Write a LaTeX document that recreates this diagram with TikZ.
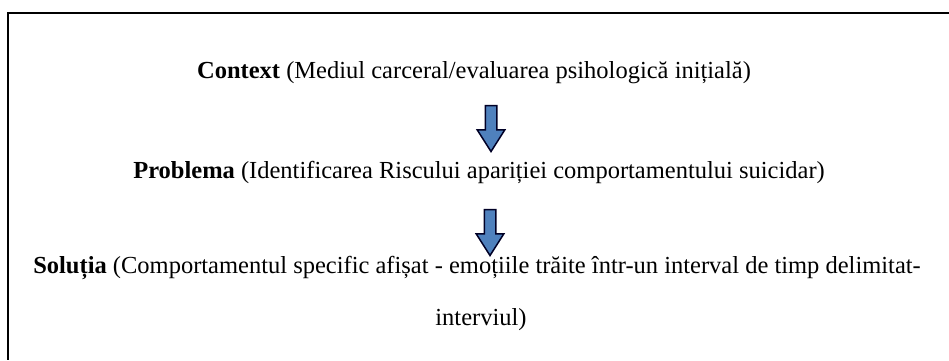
\documentclass[tikz,border=0pt]{standalone}
\usepackage{fontspec}
\setmainfont{Liberation Serif}
\usetikzlibrary{shapes.arrows}
\definecolor{arrowblue}{RGB}{79,129,189}
\begin{document}
\begin{tikzpicture}[x=1pt, y=-1pt, every node/.style={font=\fontsize{24.5}{29}\selectfont},
  txt/.style={anchor=base, inner sep=0pt},
  down/.style={single arrow, draw=black!85!blue, fill=arrowblue, line width=1.5pt, inner sep=5pt,
    minimum height=46pt, single arrow head extend=8pt,
    single arrow tip angle=65, shape border rotate=270}]
\useasboundingbox (0,0) rectangle (949,360);
\draw[line width=1.8pt] (949,13) -- (8,13) -- (8,360);
\node[txt] (context) at (474,78) {\textbf{Context} (Mediul carceral/evaluarea psihologică inițială)};
\node[down] (arrow1) at (491,124) {};
\node[txt] (problema) at (479,178) {\textbf{Problema} (Identificarea Riscului apariției comportamentului suicidar)};
\node[down] (arrow2) at (490,228) {};
\node[txt] (solutia) at (477,273) {\textbf{Soluția} (Comportamentul specific afișat - emoțiile trăite într-un interval de timp delimitat-};
\node[txt] (interviul) at (481,325) {interviul)};
\end{tikzpicture}
\end{document}
